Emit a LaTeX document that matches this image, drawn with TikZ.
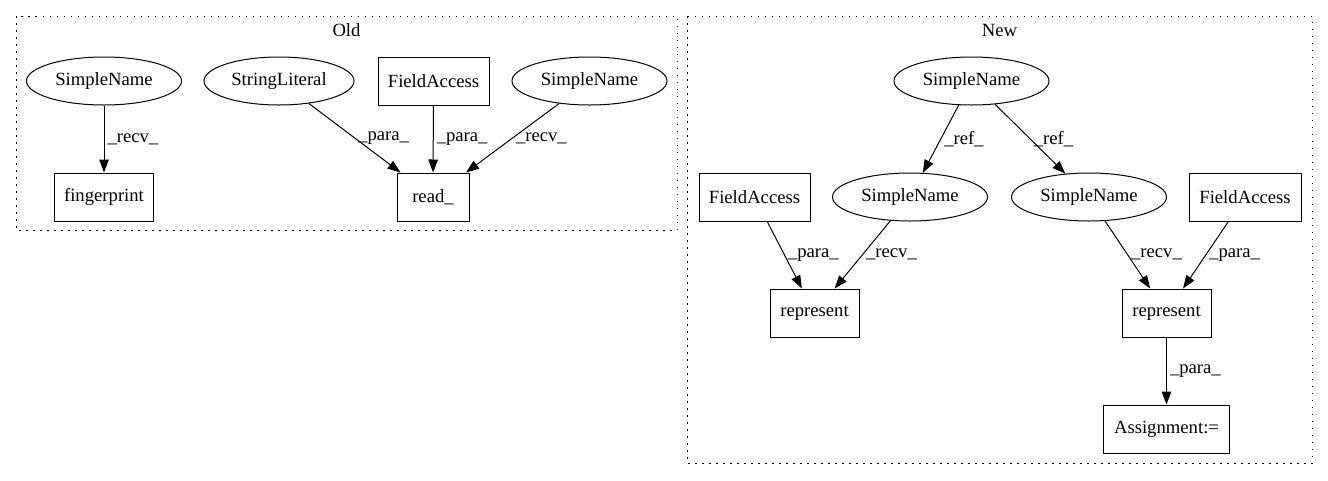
\documentclass[tikz,border=0pt]{standalone}
\usepackage{fontspec}
\setmainfont{Liberation Serif}
\usepackage{tikz}
\usetikzlibrary{arrows.meta,shapes.geometric}

\begin{document}
\begin{tikzpicture}[x=1pt,y=-1pt,>={Triangle[length=13pt,width=9.5pt]},line width=1pt]
\tikzstyle{every node}=[font=\fontsize{18.67}{20}\selectfont]
\tikzstyle{oval}=[draw,ellipse,minimum width=155pt,minimum height=48pt,inner sep=0pt]
\tikzstyle{box}=[draw,rectangle,minimum height=48pt,inner sep=0pt]
\tikzstyle{lbl}=[midway,anchor=west,inner sep=3pt]
\tikzstyle{cluster}=[dash pattern=on 1.5pt off 5.5pt,line width=1pt]
 \useasboundingbox (0,0) rectangle (1328,480);
 % clusters
 \draw[cluster] (16,16) rectangle (677,230);
 \draw[cluster] (687,16) rectangle (1312,463);
 \node (old) at (346.5,30) {Old};
 \node (new) at (999.5,30) {New};
 % old
 \node[oval] (osn1) at (104,81) {SimpleName};
 \node[box,minimum width=99pt] (ofinger) at (104,197) {fingerprint};
 \node[oval,minimum width=150pt] (ostr) at (279,81) {StringLiteral};
 \node[box,minimum width=111pt] (ofa) at (433.5,81) {FieldAccess};
 \node[oval] (osn2) at (589.5,81) {SimpleName};
 \node[box,minimum width=72pt] (oread) at (433,197) {read\_};
 % new
 \node[oval] (nsn) at (971.5,81) {SimpleName};
 \node[oval] (nsna) at (910,197) {SimpleName};
 \node[oval] (nsnb) at (1089,197) {SimpleName};
 \node[box,minimum width=111pt] (nfaa) at (754.5,197) {FieldAccess};
 \node[box,minimum width=112pt] (nfab) at (1245,197) {FieldAccess};
 \node[box,minimum width=89pt] (nrepa) at (814.5,313) {represent};
 \node[box,minimum width=89pt] (nrepb) at (1166.5,313) {represent};
 \node[box,minimum width=126pt] (nassign) at (1166.5,429) {Assignment:=};
 \path[->,draw]
 (osn1) edge node[lbl] {\_recv\_} (ofinger)
 (ostr) edge node[lbl] {\_para\_} (oread)
 (ofa)  edge node[lbl] {\_para\_} (oread)
 (osn2) edge node[lbl] {\_recv\_} (oread)
 (nsn)  edge node[lbl] {\_ref\_} (nsna)
 (nsn)  edge node[lbl] {\_ref\_} (nsnb)
 (nfaa) edge node[lbl] {\_para\_} (nrepa)
 (nsna) edge node[lbl] {\_recv\_} (nrepa)
 (nsnb) edge node[lbl] {\_recv\_} (nrepb)
 (nfab) edge node[lbl] {\_para\_} (nrepb)
 (nrepb) edge node[lbl] {\_para\_} (nassign)
 ;
\end{tikzpicture}
\end{document}
